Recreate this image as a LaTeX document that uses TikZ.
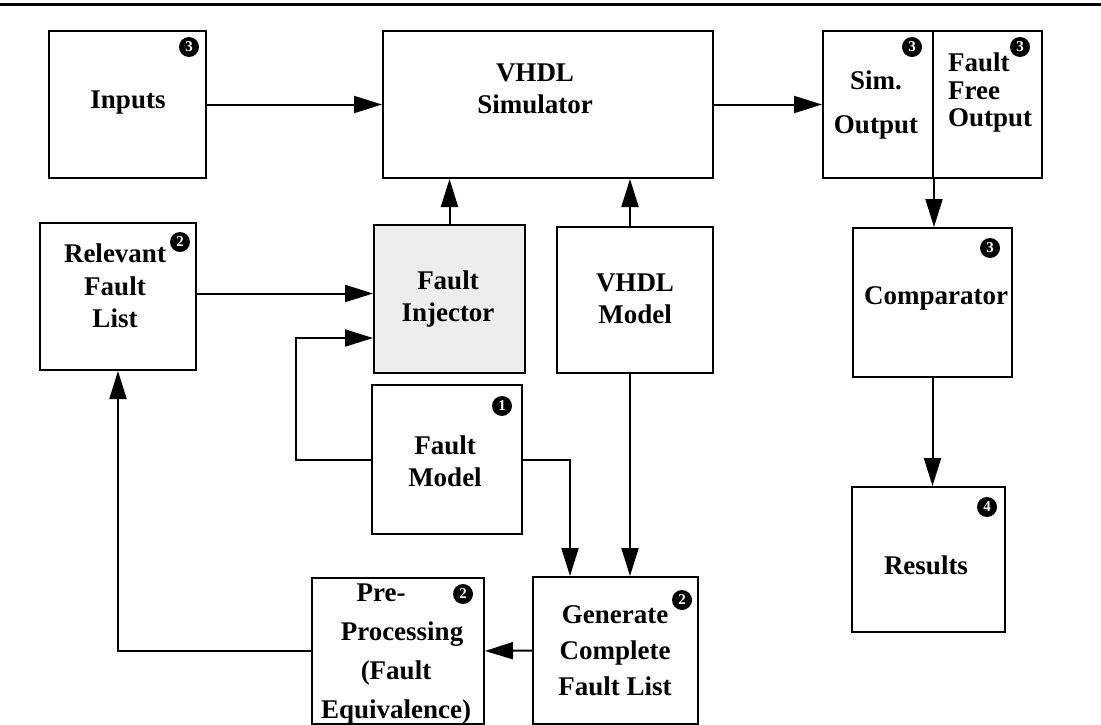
\documentclass[tikz,border=0pt]{standalone}
\usepackage{fontspec}
\setmainfont{Liberation Serif}
\usetikzlibrary{arrows.meta,calc}
\begin{document}
\begin{tikzpicture}[x=1pt,y=-1pt,
  box/.style={draw,line width=2pt,inner sep=0pt},
  txt/.style={font=\fontsize{27}{32}\selectfont\bfseries,align=center,inner sep=0pt},
  badge/.style={circle,fill=black,text=white,inner sep=0pt,minimum size=20pt,font=\fontsize{15}{15}\selectfont\bfseries},
  arr/.style={line width=2pt,-{Triangle[length=28pt,width=17pt]}},
  conn/.style={line width=2pt}]
\useasboundingbox (0,0) rectangle (1101,725);
\draw[line width=3pt] (0,5) -- (1101,5);
% boxes
\node[box,minimum width=157pt,minimum height=147pt] (inp) at (127.5,104.5) {};
\node[box,minimum width=330pt,minimum height=147pt] (sim) at (548,104.5) {};
\node[box,minimum width=110pt,minimum height=147pt] (simout) at (878,104.5) {};
\node[box,minimum width=109pt,minimum height=147pt] (ffout) at (987.5,104.5) {};
\node[box,minimum width=156pt,minimum height=147pt] (rel) at (118,296.5) {};
\node[box,fill=black!7,minimum width=151pt,minimum height=148pt] (inj) at (449.5,299) {};
\node[box,minimum width=156pt,minimum height=146pt] (vmod) at (635,300) {};
\node[box,minimum width=159pt,minimum height=149pt] (cmp) at (932.5,302.5) {};
\node[box,minimum width=150pt,minimum height=149pt] (fmod) at (447,459.5) {};
\node[box,minimum width=165pt,minimum height=147pt] (gen) at (615.5,650.5) {};
\node[box,minimum width=172pt,minimum height=146pt] (pre) at (398,651) {};
\node[box,minimum width=153pt,minimum height=145pt] (res) at (928.5,559.5) {};
% texts
\node[txt] (tinp) at (128,103) {Inputs};
\node[txt] (tsim) at (535,89) {VHDL\\Simulator};
\node[txt,font=\fontsize{27}{44}\selectfont\bfseries] (tsimout) at (876,105) {Sim.\\Output};
\node[txt,align=left,anchor=west,font=\fontsize{27}{27.5}\selectfont\bfseries] (tffout) at (948,93) {Fault\\Free\\Output};
\node[txt,font=\fontsize{27}{32.5}\selectfont\bfseries] (trel) at (115,286) {Relevant\\Fault\\List};
\node[txt] (tinj) at (448,299) {Fault\\Injector};
\node[txt] (tvmod) at (635,299) {VHDL\\Model};
\node[txt] (tcmp) at (936,298) {Comparator};
\node[txt] (tfmod) at (445,461) {Fault\\Model};
\node[txt] (tres) at (926,565) {Results};
\node[txt,font=\fontsize{27}{36}\selectfont\bfseries] (tgen) at (615,651) {Generate\\Complete\\Fault List};
\node[txt,font=\fontsize{27}{39}\selectfont\bfseries] (tpre) at (396,654) {Pre-\hspace*{30pt}\\\hspace*{12pt}Processing\\(Fault\hspace*{10pt}\\Equivalence)};
% badges
\node[badge] (b1) at (189,47) {3};
\node[badge] (b2) at (912,47) {3};
\node[badge] (b3) at (1020,47) {3};
\node[badge] (b4) at (180,242) {2};
\node[badge] (b5) at (990,248) {3};
\node[badge] (b6) at (502,406) {1};
\node[badge] (b7) at (682,600) {2};
\node[badge] (b8) at (463,594) {2};
\node[badge] (b9) at (987,507) {4};
% connectors
\draw[arr] (inp.east) -- (sim.west);
\draw[arr] (sim.east) -- (simout.west);
\draw[arr] (inj.north) -- (inj.north |- sim.south);
\draw[arr] ([xshift=-5pt]vmod.north) -- ([xshift=-5pt]vmod.north |- sim.south);
\draw[arr] ([yshift=3pt]rel.east) -- ([yshift=3pt]rel.east -| inj.west);
\draw[arr] (fmod.west) -- ++(-75,0) |- ([yshift=-39pt]inj.west);
\draw[arr] (fmod.east) -| ([xshift=-45.5pt]gen.north);
\draw[arr] ([xshift=-5pt]vmod.south) -- ([xshift=-5pt]vmod.south |- gen.north);
\draw[arr] (gen.west) -- (pre.east);
\draw[arr] (pre.west) -| (rel.south);
\draw[arr] (simout.south east) -- (simout.south east |- cmp.north);
\draw[arr] (cmp.south) -- (cmp.south |- res.north);
\end{tikzpicture}
\end{document}
